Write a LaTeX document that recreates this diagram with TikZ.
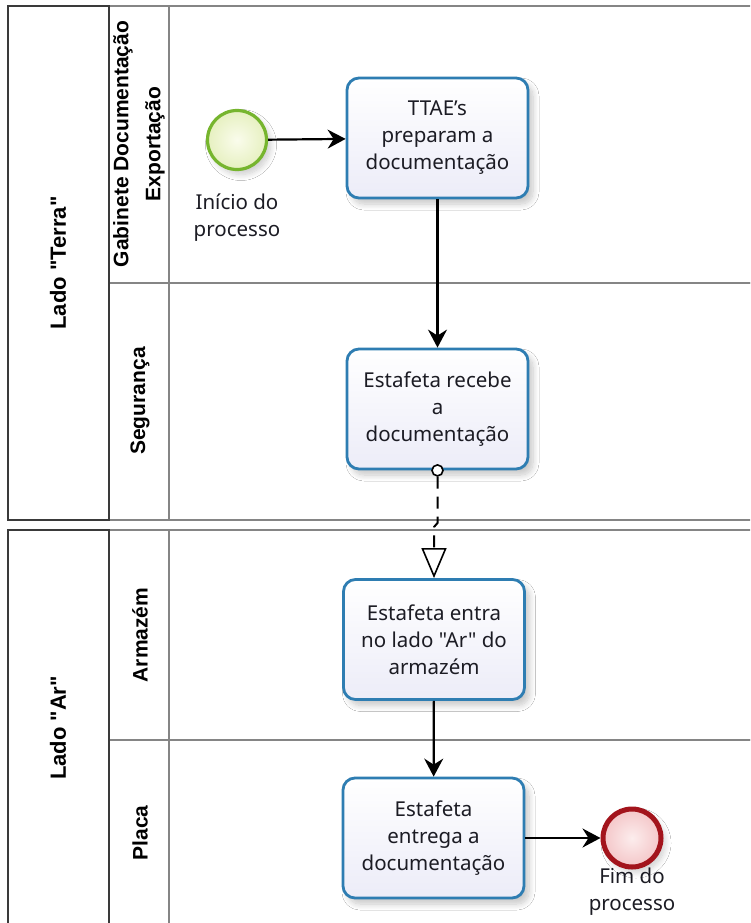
\documentclass[tikz,border=0pt]{standalone}
\usepackage{fontspec}
\setmainfont{Noto Sans}
\newfontfamily\taskfont{Noto Sans}
\newfontfamily\headfont{Liberation Sans}
\usetikzlibrary{arrows.meta,shadows.blur}

\definecolor{taskblue}{HTML}{2E7DB2}
\definecolor{taskfill}{HTML}{ECECF8}
\definecolor{startring}{HTML}{76B52E}
\definecolor{startin}{HTML}{FAFCEC}
\definecolor{startout}{HTML}{E6F0C0}
\definecolor{endring}{HTML}{A3141C}
\definecolor{endin}{HTML}{FCEDED}
\definecolor{endout}{HTML}{F4C6C8}
\definecolor{poolline}{HTML}{3A3A3A}
\definecolor{laneline}{HTML}{858585}
\definecolor{textcol}{HTML}{1C1C24}

\tikzset{
  pooltitle/.style={draw=poolline, line width=1.8pt},
  lanebox/.style={draw=laneline, line width=1.8pt},
  pooltext/.style={rotate=90, font=\headfont\bfseries\fontsize{22}{30}\selectfont, text=black},
  lanetext/.style={rotate=90, align=center, font=\headfont\bfseries\fontsize{21}{32}\selectfont, text=black},
  task/.style={draw=taskblue, line width=2.8pt, rounded corners=12pt,
    top color=white, bottom color=taskfill, minimum width=181pt, minimum height=120pt,
    align=center, text=textcol, font=\taskfont\fontsize{20.5}{27}\selectfont, inner sep=0pt,
    blur shadow={shadow xshift=5pt, shadow yshift=-6pt, shadow opacity=22, shadow blur steps=10, shadow blur radius=6pt}},
  startev/.style={circle, draw=startring, line width=3.2pt, minimum size=59pt, inner sep=0pt,
    inner color=startin, outer color=startout,
    blur shadow={shadow xshift=4pt, shadow yshift=-5pt, shadow opacity=20, shadow blur steps=10, shadow blur radius=6pt}},
  endev/.style={circle, draw=endring, line width=5pt, minimum size=58pt, inner sep=0pt,
    inner color=endin, outer color=endout,
    blur shadow={shadow xshift=4pt, shadow yshift=-5pt, shadow opacity=20, shadow blur steps=10, shadow blur radius=6pt}},
  evlabel/.style={align=center, text=textcol, font=\taskfont\fontsize{20.5}{27}\selectfont, inner sep=0pt},
  flow/.style={line width=2.2pt, -{Stealth[length=18pt, width=19pt, inset=6pt]}},
  msgflow/.style={line width=2pt, dash pattern=on 12pt off 8pt,
    -{Triangle[open, length=30pt, width=25pt, line width=1.6pt]}},
  msgstart/.style={circle, draw=black, fill=white, line width=1.6pt, minimum size=11pt, inner sep=0pt}
}

\begin{document}
\begin{tikzpicture}[x=1pt, y=-1pt]
  \useasboundingbox (0,0) rectangle (750,923);
  \clip (0,0) rectangle (750,923);
  \fill[white] (0,0) rectangle (750,923);

  % pool "Terra"
  \draw[lanebox] (169,6) rectangle (770,283);
  \draw[lanebox] (169,283) rectangle (770,520);
  \draw[lanebox] (109,6) rectangle (169,283);
  \draw[lanebox] (109,283) rectangle (169,520);
  \draw[pooltitle] (8,6) rectangle (109,520);
  \node[pooltext] (terra) at (58,263) {Lado "Terra"};
  \node[lanetext] (gab) at (139,144) {Gabinete Documentação\\Exportação};
  \node[lanetext] (seg) at (140,401) {Segurança};

  % pool "Ar"
  \draw[lanebox] (169,530) rectangle (770,740);
  \draw[lanebox] (169,740) rectangle (770,940);
  \draw[lanebox] (109,530) rectangle (169,740);
  \draw[lanebox] (109,740) rectangle (169,940);
  \draw[pooltitle] (8,530) rectangle (109,940);
  \node[pooltext] (ar) at (58,728) {Lado "Ar"};
  \node[lanetext] (arm) at (140,635) {Armazém};
  \node[lanetext] (placa) at (140,833) {Placa};

  % events and tasks
  \node[startev] (start) at (237,140) {};
  \node[evlabel, anchor=north] (startlbl) at (237,194) {Início do\\processo};
  \node[task] (t1) at (437.5,138) {TTAE’s\\preparam a\\documentação};
  \node[task] (t2) at (437.5,409) {Estafeta recebe\\a\\documentação};
  \node[task] (t3) at (434,639.5) {Estafeta entra\\no lado "Ar" do\\armazém};
  \node[task] (t4) at (433.5,838) {Estafeta\\entrega a\\documentação};
  \node[endev] (fim) at (632,838) {};
  \node[evlabel, anchor=north] (fimlbl) at (632,868) {Fim do\\processo};

  % sequence flows
  \draw[flow] (start) -- (t1);
  \draw[flow] (t1) -- (t2);
  \draw[flow] (t3) -- (t4);
  \draw[flow] (t4) -- (fim);

  % message flow between the pools
  \node[msgstart] (m0) at (t2.south) {};
  \coordinate (j1) at (437.5,523);
  \coordinate (j2) at (434,527);
  \draw[msgflow] (m0.south) -- (j1) -- (j2) -- (t3.north);
\end{tikzpicture}
\end{document}
